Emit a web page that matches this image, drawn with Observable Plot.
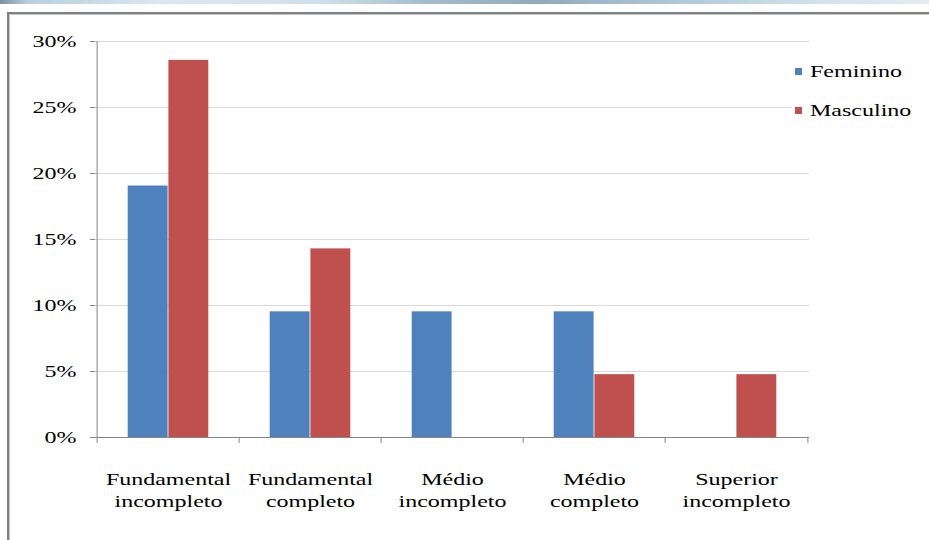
<!DOCTYPE html>
<html>
<head>
<meta charset="utf-8">
<script src="https://cdn.jsdelivr.net/npm/d3@7"></script>
<script src="https://cdn.jsdelivr.net/npm/@observablehq/plot@0.6"></script>
<style>
  html, body { margin: 0; padding: 0; background: #fff; }
  #page { position: relative; width: 929px; height: 540px; overflow: hidden; font-family: "Liberation Serif", "Times New Roman", serif; }
  #faixa { position: absolute; left: 0; top: 0; width: 929px; height: 4px;
    background: linear-gradient(to right, #7d8f9e 0%, #b9cfdf 3%, #dbe8f2 18%, #cfdfeb 35%, #a3bccc 46%, #8eabbd 58%, #a9c3d3 70%, #d2e2ed 88%, #e2ecf4 100%); }
  #moldura { position: absolute; left: 7px; top: 12px; right: -10px; bottom: -10px;
    border-top: 2px solid #808080; border-left: 2px solid #808080; }
  #moldura::after { content: ""; position: absolute; left: 0; top: 0; right: 0; bottom: 0;
    border-top: 1px solid #c4c4c4; border-left: 1px solid #c4c4c4; }
  #grafico { position: absolute; left: 0; top: 0; }
  #legenda { position: absolute; left: 792px; top: 56px; width: 137px; height: 70px; background: #fff; }
  .item { position: absolute; left: 3px; height: 20px; font-size: 16px; color: #000; font-family: "Liberation Serif", serif; }
  .item .quadro { position: absolute; left: 0; width: 7px; height: 7px; }
  .item .rotulo { position: absolute; left: 15px; white-space: nowrap; transform: scaleX(1.5); transform-origin: 0 0; line-height: 20px; }
</style>
</head>
<body>
<div id="page">
  <div id="faixa"></div>
  <div id="moldura"></div>
  <div id="grafico"></div>
  <div id="legenda"></div>
</div>
<script>
// Escolaridade por sexo (percentual)
const categorias = [
  "Fundamental incompleto",
  "Fundamental completo",
  "Médio incompleto",
  "Médio completo",
  "Superior incompleto"
];
const rotulosCategorias = [
  "Fundamental\nincompleto",
  "Fundamental\ncompleto",
  "Médio\nincompleto",
  "Médio\ncompleto",
  "Superior\nincompleto"
];
const series = ["Feminino", "Masculino"];
const feminino = [19.05, 9.52, 9.52, 9.52, 0];
const masculino = [28.57, 14.29, 0, 4.76, 4.76];
const ticksY = [0, 5, 10, 15, 20, 25, 30];
const cores = ["#4F81BD", "#C0504D"];

const dados = categorias.flatMap((c, i) => [
  {categoria: c, sexo: series[0], valor: feminino[i]},
  {categoria: c, sexo: series[1], valor: masculino[i]}
]);

const W = 929, H = 540;
const mL = 95, mR = 120, mT = 41, mB = 103;
const bw = (W - mL - mR) / categorias.length;   // largura de cada categoria
const larguraBarra = bw * 0.285;                 // barras agrupadas, sem espaço entre elas
const folga = bw / 2 - larguraBarra;

const cinzaEixo = "#868686";
const fonte = "'Liberation Serif', 'Times New Roman', serif";

const plot = Plot.plot({
  width: W,
  height: H,
  marginLeft: mL,
  marginRight: mR,
  marginTop: mT,
  marginBottom: mB,
  style: {background: "transparent", fontFamily: fonte, fontSize: "16px", color: "#000"},
  x: {type: "band", domain: categorias, padding: 0},
  y: {domain: [0, 30]},
  marks: [
    Plot.gridY(ticksY.filter(t => t > 0), {stroke: "#d9d9d9", strokeOpacity: 1}),
    Plot.barY(dados.filter(d => d.sexo === series[0]), {
      x: "categoria", y: "valor", fill: cores[0], insetLeft: folga, insetRight: bw / 2
    }),
    Plot.barY(dados.filter(d => d.sexo === series[1]), {
      x: "categoria", y: "valor", fill: cores[1], insetLeft: bw / 2, insetRight: folga
    }),
    // eixo horizontal e vertical
    Plot.ruleY([0], {stroke: cinzaEixo}),
    Plot.ruleX([categorias[0]], {x: d => d, dx: -bw / 2, stroke: cinzaEixo}),
    // marcas de divisão entre categorias
    Plot.ruleX(categorias, {x: d => d, dx: -bw / 2, y1: 0, y2: 0, insetBottom: -6, stroke: cinzaEixo}),
    Plot.ruleX([categorias[categorias.length - 1]], {x: d => d, dx: bw / 2, y1: 0, y2: 0, insetBottom: -6, stroke: cinzaEixo}),
    Plot.axisY({
      ticks: ticksY, tickFormat: d => `${d}%`, tickSize: 5, tickPadding: 14,
      stroke: cinzaEixo, strokeOpacity: 1, label: null, fill: "#000"
    }),
    Plot.axisX({
      tickSize: 0, tickPadding: 32, label: null, lineHeight: 1.375, fill: "#000",
      tickFormat: d => rotulosCategorias[categorias.indexOf(d)]
    })
  ]
});

// texto serifado com proporção alargada
d3.select(plot).selectAll("text").each(function () {
  const t = this.getAttribute("transform") || "";
  this.setAttribute("transform", `${t} scale(1.5,1)`);
  this.setAttribute("font-family", fonte);
  this.style.fontFamily = fonte;
});

document.getElementById("grafico").appendChild(plot);

// legenda
const legenda = d3.select("#legenda");
series.forEach((s, i) => {
  const item = legenda.append("div").attr("class", "item").style("top", `${8 + i * 39}px`);
  item.append("div").attr("class", "quadro").style("top", "4px").style("background", cores[i]);
  item.append("div").attr("class", "rotulo").style("top", "-2px").text(s);
});
</script>
</body>
</html>
